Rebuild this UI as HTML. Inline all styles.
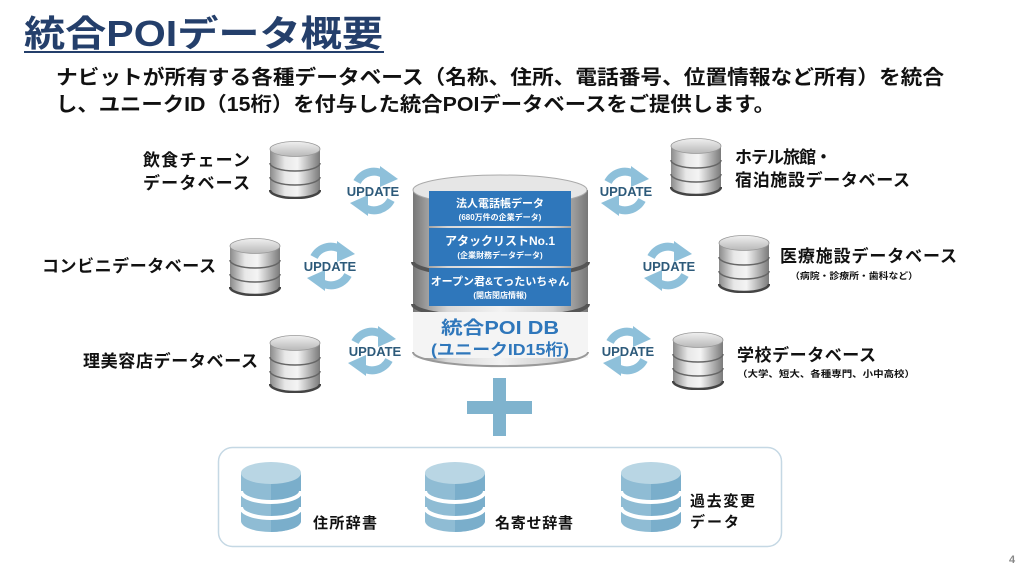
<!DOCTYPE html>
<html><head><meta charset="utf-8"><style>
html,body{margin:0;padding:0;background:#fff;}
svg{display:block;}
text{font-family:"Liberation Sans","Noto Sans CJK JP",sans-serif;font-weight:bold;}
</style></head><body>
<svg width="1024" height="575" viewBox="0 0 1024 575" xmlns="http://www.w3.org/2000/svg">
<defs>
<linearGradient id="gh" x1="0" x2="1" y1="0" y2="0">
<stop offset="0" stop-color="#8a8a8a"/><stop offset="0.3" stop-color="#e8e8e8"/><stop offset="0.55" stop-color="#f4f4f4"/><stop offset="1" stop-color="#7a7a7a"/></linearGradient>
<linearGradient id="gt" x1="0" x2="0" y1="0" y2="1"><stop offset="0" stop-color="#f0f0f0"/><stop offset="1" stop-color="#b8b8b8"/></linearGradient>
<symbol id="gdb" viewBox="0 0 52 58">
<path d="M1,8 L1,49 A25,8 0 0 0 51,49 L51,8 Z" fill="url(#gh)"/>
<path d="M1,22 A25,8 0 0 0 51,22" fill="none" stroke="#666" stroke-width="1.5"/>
<path d="M1,36 A25,8 0 0 0 51,36" fill="none" stroke="#666" stroke-width="1.5"/>
<path d="M1,49 A25,8 0 0 0 51,49" fill="none" stroke="#444" stroke-width="2.5"/>
<ellipse cx="26" cy="8" rx="25" ry="7.5" fill="url(#gt)" stroke="#999" stroke-width="0.8"/>
</symbol>
<symbol id="bdb" viewBox="0 0 62 72">
<path d="M1,12 L1,60 A30,11 0 0 0 61,60 L61,12 Z" fill="#8fbcd4"/>
<path d="M31,12 L31,71 A30,11 0 0 0 61,60 L61,12 Z" fill="#7aaecb"/>
<path d="M1,30 A30,11 0 0 0 61,30" fill="none" stroke="#fff" stroke-width="4"/>
<path d="M1,46 A30,11 0 0 0 61,46" fill="none" stroke="#fff" stroke-width="4"/>
<ellipse cx="31" cy="12" rx="30" ry="11" fill="#b9d6e4"/>
</symbol>
<symbol id="upd" viewBox="-26 -26 52 52" overflow="visible">
<path d="M-17,-9 A19,19 0 0 1 12,-15" fill="none" stroke="#8ec0da" stroke-width="8"/>
<polygon points="6,-25 24,-12 6,-4" fill="#8ec0da"/>
<path d="M17,9 A19,19 0 0 1 -12,15" fill="none" stroke="#8ec0da" stroke-width="8"/>
<polygon points="-6,25 -24,12 -6,4" fill="#8ec0da"/>
</symbol>
<linearGradient id="cg" x1="0" x2="1"><stop offset="0" stop-color="#777"/><stop offset="0.2" stop-color="#d8d8d8"/><stop offset="0.5" stop-color="#f2f2f2"/><stop offset="0.8" stop-color="#d0d0d0"/><stop offset="1" stop-color="#777"/></linearGradient>
</defs>

<text x="24" y="46" font-size="36" fill="#243f6b" textLength="359" lengthAdjust="spacingAndGlyphs">統合POIデータ概要</text>
<rect x="24" y="51" width="360" height="2" fill="#243f6b"/>
<text x="56" y="84" font-size="20" fill="#111" textLength="888" lengthAdjust="spacingAndGlyphs">ナビットが所有する各種データベース（名称、住所、電話番号、位置情報など所有）を統合</text>
<text x="56" y="111" font-size="20" fill="#111" textLength="719" lengthAdjust="spacingAndGlyphs">し、ユニークID（15桁）を付与した統合POIデータベースをご提供します。</text>

<!-- central DB -->
<path d="M413,190 L413,352 A87,14 0 0 0 588,352 L588,190 Z" fill="url(#cg)"/>
<path d="M413,262 A87,14 0 0 0 588,262" fill="none" stroke="#555" stroke-width="4"/>
<path d="M413,304 A87,14 0 0 0 588,304" fill="none" stroke="#555" stroke-width="4"/>
<ellipse cx="500" cy="190" rx="87" ry="15" fill="#e6e6e6" stroke="#aaa"/>
<rect x="413" y="312" width="175" height="46" fill="#f4f4f4"/>
<path d="M413,352 A87,14 0 0 0 588,352" fill="none" stroke="#999" stroke-width="2"/>
<rect x="429" y="191" width="142" height="35" fill="#2f77bb"/>
<rect x="429" y="228" width="142" height="38" fill="#2f77bb"/>
<rect x="429" y="268" width="142" height="38" fill="#2f77bb"/>
<g fill="#fff" text-anchor="middle">
<text x="500" y="207" font-size="11" font-weight="normal">法人電話帳データ</text>
<text x="500" y="220" font-size="8">(680万件の企業データ)</text>
<text x="500" y="245" font-size="12" font-weight="normal">アタックリストNo.1</text>
<text x="500" y="258" font-size="8">(企業財務データデータ)</text>
<text x="500" y="285" font-size="11" font-weight="normal">オープン君&amp;てったいちゃん</text>
<text x="500" y="298" font-size="8">(開店閉店情報)</text>
</g>
<text x="500" y="334" font-size="18" fill="#2f77bb" text-anchor="middle" textLength="118" lengthAdjust="spacingAndGlyphs">統合POI DB</text>
<text x="500" y="355" font-size="16" fill="#2f77bb" text-anchor="middle" textLength="138" lengthAdjust="spacingAndGlyphs">(ユニークID15桁)</text>

<!-- gray DBs -->
<use href="#gdb" x="269" y="141" width="52" height="58"/>
<use href="#gdb" x="229" y="238" width="52" height="58"/>
<use href="#gdb" x="269" y="335" width="52" height="58"/>
<use href="#gdb" x="670" y="138" width="52" height="58"/>
<use href="#gdb" x="718" y="235" width="52" height="58"/>
<use href="#gdb" x="672" y="332" width="52" height="58"/>

<g font-size="17" fill="#111" lengthAdjust="spacingAndGlyphs">
<text x="143" y="166" textLength="107">飲食チェーン</text>
<text x="143" y="189" textLength="107">データベース</text>
<text x="42" y="272" textLength="174">コンビニデータベース</text>
<text x="83" y="367" textLength="175">理美容店データベース</text>
<text x="735" y="163" textLength="97">ホテル旅館・</text>
<text x="735" y="186" textLength="175">宿泊施設データベース</text>
<text x="780" y="262" textLength="177">医療施設データベース</text>
<text x="737" y="361" textLength="139">学校データベース</text>
</g>
<text x="790" y="279" font-size="9" fill="#111" textLength="128" lengthAdjust="spacingAndGlyphs">（病院・診療所・歯科など）</text>
<text x="737" y="377" font-size="9" fill="#111" textLength="178" lengthAdjust="spacingAndGlyphs">（大学、短大、各種専門、小中高校）</text>

<!-- updates -->
<use href="#upd" x="348" y="165" width="52" height="52"/>
<use href="#upd" x="305" y="240" width="52" height="52"/>
<use href="#upd" x="346" y="325" width="52" height="52"/>
<use href="#upd" x="599" y="165" width="52" height="52"/>
<use href="#upd" x="642" y="240" width="52" height="52"/>
<use href="#upd" x="601" y="325" width="52" height="52"/>
<g font-size="13" fill="#2d5a7a" text-anchor="middle">
<text x="373" y="196">UPDATE</text>
<text x="330" y="271">UPDATE</text>
<text x="375" y="356">UPDATE</text>
<text x="626" y="196">UPDATE</text>
<text x="669" y="271">UPDATE</text>
<text x="628" y="356">UPDATE</text>
</g>

<!-- plus -->
<rect x="493" y="378" width="13" height="58" fill="#7fb3ce"/>
<rect x="467" y="401" width="65" height="13" fill="#7fb3ce"/>

<!-- bottom box -->
<rect x="218.5" y="447.5" width="563" height="99" rx="14" fill="#fff" stroke="#c5d8e4" stroke-width="1.5"/>
<use href="#bdb" x="240" y="461" width="62" height="72"/>
<use href="#bdb" x="424" y="461" width="62" height="72"/>
<use href="#bdb" x="620" y="461" width="62" height="72"/>
<g font-size="15" fill="#111" lengthAdjust="spacingAndGlyphs">
<text x="313" y="528" textLength="64">住所辞書</text>
<text x="495" y="528" textLength="78">名寄せ辞書</text>
<text x="690" y="506" textLength="65">過去変更</text>
<text x="690" y="527" textLength="49">データ</text>
</g>
<text x="1009" y="563" font-size="11" font-weight="normal" fill="#888">4</text>
</svg>
</body></html>
